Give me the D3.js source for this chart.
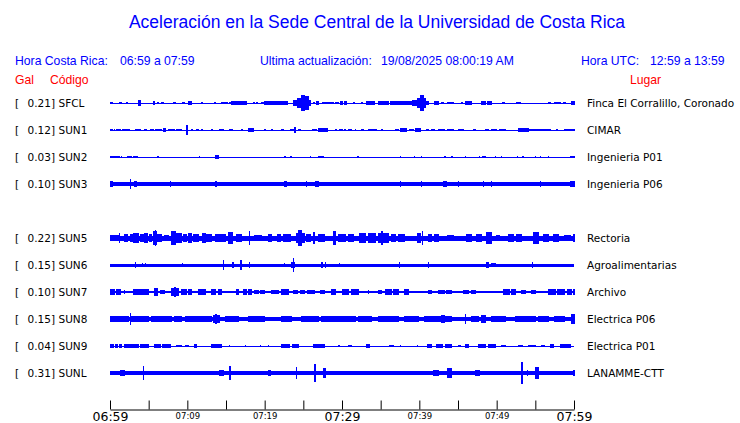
<!DOCTYPE html>
<html>
<head>
<meta charset="utf-8">
<script src="https://cdn.jsdelivr.net/npm/d3@7"></script>
<style>
  body { margin: 0; background: #fff; }
  svg { display: block; }
</style>
</head>
<body>
<svg id="chart" width="740" height="423"></svg>
<script>
// slots on the drum (SUN4 is not reporting)
const slots = ["SFCL", "SUN1", "SUN2", "SUN3", "SUN4", "SUN5", "SUN6", "SUN7", "SUN8", "SUN9", "SUNL"];
const codes = ["SFCL", "SUN1", "SUN2", "SUN3", "SUN5", "SUN6", "SUN7", "SUN8", "SUN9", "SUNL"];
const peakGal = [0.21, 0.12, 0.03, 0.10, 0.22, 0.15, 0.10, 0.15, 0.04, 0.31];
const places = ["Finca El Corralillo, Coronado", "CIMAR", "Ingenieria P01", "Ingenieria P06",
  "Rectoria", "Agroalimentarias", "Archivo", "Electrica P06", "Electrica P01", "LANAMME-CTT"];
// background noise level (Gal, half amplitude)
const noiseGal = [0.0125, 0.0125, 0.0125, 0.05, 0.0625, 0.0375, 0.034, 0.054, 0.0125, 0.046];
// minutes after 06:59 used for ticks
const tickMinutes = d3.range(0, 61, 5);

// envelope bursts: [start min, end min, half amplitude Gal]
const sfcl = [[0,0.3,.033],[1.2,1.5,.033],[2.1,2.2,.025],[3.7,3.9,.075],[5.6,5.8,.05],[6.2,6.3,.033],
  [6.6,6.9,.033],[8.2,8.5,.033],[9.4,9.6,.025],[10.2,10.6,.042],[11.8,11.9,.025],[13.5,13.7,.025],
  [14.4,14.5,.025],[14.7,14.9,.025],[15.0,15.2,.025],[15.4,15.7,.033],[15.7,17.5,.042],[17.5,17.7,.05],
  [18.6,18.7,.025],[19.0,19.1,.025],[19.6,19.8,.033],[20.0,22.4,.042],[22.5,22.9,.05],[23.7,24.3,.083],
  [24.3,24.8,.125],[24.8,25.2,.208],[25.2,25.7,.167],[25.7,25.9,.067],[26.3,26.5,.033],[26.7,26.9,.042],
  [27.5,28.9,.033],[29.1,29.5,.033],[29.8,30.0,.05],[30.3,30.6,.042],[31.5,31.6,.025],[32.5,32.6,.025],
  [33.2,34.2,.042],[34.7,36.0,.042],[36.3,39.0,.042],[39.1,39.7,.083],[39.7,40.1,.133],[40.1,40.5,.208],
  [40.5,40.8,.117],[40.8,41.2,.058],[41.9,42.5,.042],[42.9,43.1,.025],[43.7,44.4,.033],[45.4,45.6,.025],
  [46.0,46.7,.042],[48.0,48.6,.058],[48.8,49.3,.05],[50.7,51.0,.033],[52.6,53.1,.033],[56.7,56.9,.025],
  [57.5,58.2,.033],[58.7,58.9,.025],[59.7,60,.042]];
const sun1 = [[0.1,0.3,.025],[0.6,0.6,.017],[0.9,1.3,.025],[1.6,2.5,.033],[3.3,3.9,.033],[4.5,4.7,.025],
  [5.2,5.6,.025],[5.9,6.7,.033],[6.9,7.2,.058],[7.5,8.4,.033],[8.6,9.3,.033],[9.9,10.0,.125],
  [10.6,10.6,.025],[11.2,11.4,.025],[11.8,11.9,.025],[13.1,13.2,.025],[14.2,14.7,.025],[15.5,15.9,.033],
  [17.0,17.1,.025],[17.9,18.5,.042],[20.0,20.1,.025],[20.9,21.0,.025],[22.2,22.4,.025],[23.3,23.7,.033],
  [23.9,24.0,.083],[24.4,24.6,.033],[26.2,26.7,.033],[26.9,28.1,.042],[29.1,29.3,.025],[29.7,30.0,.025],
  [30.3,30.5,.025],[30.9,31.2,.033],[31.7,31.8,.033],[32.5,32.8,.025],[33.4,33.8,.025],[34.0,34.4,.025],
  [35.1,35.3,.025],[36.9,37.3,.033],[37.5,38.4,.058],[38.7,39.2,.033],[39.5,40.2,.042],[40.9,41.2,.025],
  [41.6,42.0,.033],[42.5,43.3,.033],[43.7,44.4,.033],[45.0,45.7,.025],[47.0,47.2,.025],[48.5,48.9,.025],
  [49.3,50.0,.033],[50.4,51.1,.025],[52.8,54.1,.042],[54.3,55.4,.033],[55.6,56.9,.033],[57.8,57.9,.025],
  [58.8,60,.033]];
const sun2 = [[0,0.4,.033],[0.6,1.2,.033],[1.5,1.5,.017],[2.3,2.8,.033],[3.1,3.5,.033],[6.2,6.2,.017],
  [11.6,11.6,.017],[13.7,14.0,.042],[22.5,22.7,.033],[23.4,23.4,.017],[25.9,25.9,.017],[26.9,27.6,.033],
  [32.0,32.1,.033],[37.6,37.6,.017],[39.4,39.4,.017],[40.3,40.3,.017],[43.2,43.4,.033],[44.2,44.2,.017],
  [46.0,46.0,.025],[47.8,47.8,.017],[48.2,48.5,.033],[49.8,49.8,.017],[50.6,50.6,.017],[52.7,52.7,.017],
  [53.4,53.4,.017],[55.0,55.0,.025],[55.7,55.7,.025],[56.7,56.7,.025],[59.6,60,.033]];
const sun3 = [[0,0.3,.075],[2.6,2.7,.125],[3.2,3.4,.083],[7.8,7.8,.067],[13.7,13.7,.067],[22.5,22.8,.075],
  [25.4,25.4,.067],[26.6,26.9,.067],[27.3,27.3,.058],[29.5,29.5,.058],[35.8,35.8,.058],[37.6,37.6,.067],
  [40.3,40.3,.067],[43.1,43.5,.075],[45.1,45.1,.067],[48.3,48.3,.067],[49.3,49.3,.067],[53.4,53.4,.058],
  [55.7,55.7,.067],[59.5,60,.075]];
const sun5 = [[0,1.1,.075],[1.2,1.2,.117],[1.9,2.2,.1],[2.6,2.9,.1],[3.1,3.7,.125],[4.0,4.3,.1],
  [4.5,4.9,.117],[5.1,5.4,.108],[5.6,6.0,.183],[5.9,5.9,.208],[6.2,6.7,.1],[7.1,7.5,.083],[8.0,8.5,.167],
  [8.6,9.3,.117],[9.5,9.9,.1],[10.1,10.6,.117],[10.8,11.4,.1],[11.9,12.3,.125],[12.5,13.1,.1],
  [13.6,14.9,.092],[15.3,15.9,.15],[16.4,17.0,.1],[18.0,18.0,.183],[18.7,19.6,.075],[20.5,20.9,.092],
  [21.6,22.0,.092],[22.4,23.3,.1],[24.1,24.3,.125],[24.4,24.8,.2],[24.8,25.1,.125],[25.4,25.9,.1],
  [26.3,26.5,.15],[26.9,27.8,.1],[28.9,29.1,.167],[29.5,30.4,.1],[30.8,31.5,.1],[32.3,33.0,.117],
  [33.4,34.3,.117],[34.7,36.0,.133],[35.1,35.2,.183],[36.4,36.9,.1],[37.3,38.1,.092],[39.7,40.1,.117],
  [40.4,40.4,.183],[41.2,41.6,.092],[42.0,42.5,.1],[43.7,44.4,.083],[46.1,46.8,.092],[47.4,48.1,.092],
  [48.7,49.3,.15],[50.0,50.4,.083],[51.5,52.2,.1],[52.6,53.2,.092],[54.7,55.4,.15],[56.0,56.7,.092],
  [57.3,58.0,.092],[58.8,59.5,.083],[59.9,60,.1]];
const sun6 = [[3.3,3.3,.067],[4.2,4.2,.058],[4.6,4.6,.058],[9.4,9.4,.05],[14.7,14.7,.117],[15.8,16.0,.067],
  [16.9,17.0,.117],[18.0,18.1,.075],[22.5,22.5,.05],[23.5,23.9,.083],[23.7,23.7,.167],[27.4,27.5,.067],
  [27.9,27.9,.067],[29.7,29.7,.05],[37.4,37.4,.067],[41.2,41.2,.067],[48.7,48.9,.075],[49.3,49.9,.058],
  [54.6,54.6,.067]];
const sun7 = [[0,0.6,.065],[0.8,1.3,.065],[1.9,1.9,.055],[3.0,3.9,.065],[4.1,5.0,.065],[5.8,6.2,.105],
  [6.5,7.1,.06],[8.0,8.8,.09],[8.4,8.4,.117],[9.3,9.9,.065],[10.1,10.6,.065],[11.4,12.3,.075],
  [13.1,13.6,.08],[14.0,14.4,.08],[16.4,16.6,.065],[17.2,17.7,.065],[17.9,18.3,.065],[18.7,19.2,.06],
  [19.5,20.0,.06],[20.9,21.8,.06],[22.2,23.1,.065],[23.7,24.3,.06],[24.6,25.2,.06],[25.6,26.5,.06],
  [27.2,27.8,.06],[28.7,29.1,.075],[30.0,30.9,.065],[31.2,32.1,.065],[33.4,33.4,.055],[34.7,35.1,.06],
  [35.6,36.4,.065],[36.7,37.3,.065],[38.1,38.6,.065],[41.2,41.6,.06],[42.5,43.2,.06],[43.5,44.2,.06],
  [45.7,46.4,.06],[46.7,47.2,.06],[50.9,51.6,.065],[51.9,52.4,.065],[53.2,53.7,.06],[54.5,55.0,.06],
  [56.7,57.6,.065],[57.9,58.8,.065],[59.1,59.7,.065],[59.9,60,.083]];
const sun8 = [[0,2.4,.075],[2.6,2.6,.15],[2.8,5.0,.072],[5.4,8.0,.067],[8.4,9.3,.067],[9.7,13.1,.067],
  [13.4,14.2,.1],[13.7,13.8,.133],[14.9,16.6,.067],[17.9,20.0,.067],[22.2,23.5,.067],[24.8,26.9,.067],
  [27.4,31.7,.07],[32.1,33.8,.07],[34.7,37.3,.067],[38.1,39.9,.067],[40.7,44.2,.067],[42.9,43.3,.1],
  [46.0,46.0,.133],[46.8,47.6,.067],[48.1,48.5,.108],[49.3,51.1,.067],[52.4,55.0,.067],[55.4,56.7,.067],
  [57.5,58.8,.067],[59.7,60,.117]];
const sun9 = [[0,0.5,.042],[0.7,1.0,.042],[1.2,1.5,.042],[1.9,2.6,.042],[2.8,3.7,.042],[4.0,5.0,.042],
  [5.8,6.5,.042],[6.8,7.8,.042],[8.6,9.3,.033],[9.7,10.1,.033],[10.9,11.2,.042],[13.1,14.4,.042],
  [15.4,15.4,.033],[17.5,17.5,.025],[19.4,19.4,.025],[20.5,20.5,.033],[22.2,23.2,.042],[23.6,24.4,.042],
  [26.3,27.8,.042],[29.5,29.7,.033],[30.8,31.2,.033],[33.2,33.6,.042],[36.2,36.6,.033],[37.5,37.5,.033],
  [39.7,39.7,.033],[41.1,41.6,.042],[42.2,43.0,.042],[43.4,44.2,.042],[45.0,45.3,.033],[46.0,46.3,.042],
  [47.6,48.6,.042],[49.0,49.8,.042],[50.6,51.1,.033],[52.8,53.4,.033],[54.1,55.0,.033],[55.8,56.2,.033],
  [56.9,57.3,.042],[58.2,59.5,.042]];
const sunl = [[0.2,1.1,.062],[1.4,1.9,.083],[2.4,3.2,.058],[4.3,4.3,.167],[4.7,5.0,.062],[6.0,8.0,.062],
  [8.6,9.1,.058],[10.3,10.6,.058],[11.0,11.4,.062],[12.3,12.7,.055],[14.2,14.7,.083],[15.5,15.5,.167],
  [20.5,20.7,.083],[21.3,21.8,.058],[22.6,22.8,.058],[24.1,24.1,.15],[24.8,25.2,.062],[26.5,26.6,.233],
  [27.6,27.9,.117],[31.0,31.0,.055],[33.4,33.8,.055],[36.0,36.0,.055],[38.1,38.1,.055],[39.7,39.7,.058],
  [41.8,42.5,.08],[43.7,44.2,.117],[44.6,45.3,.058],[47.2,47.8,.08],[48.3,48.5,.058],[49.6,49.6,.058],
  [50.2,51.3,.062],[51.7,52.2,.058],[53.2,53.4,.283],[54.0,54.0,.067],[55.0,55.4,.15],[56.0,56.0,.058],
  [59.9,60,.083]];
const bursts = [sfcl, sun1, sun2, sun3, sun5, sun6, sun7, sun8, sun9, sunl];

const svg = d3.select("#chart");
const blue = "#0000ff";
const start = new Date(2025, 7, 19, 6, 59);
const toDate = (m) => new Date(+start + m * 60000);

const x = d3.scaleTime().domain([start, toDate(60)]).range([110, 574]);
const y = d3.scalePoint().domain(slots).range([103, 373]);
const amp = d3.scaleLinear().domain([0, 0.3]).range([0, 12]);

// title and header
svg.append("text")
  .attr("x", 377).attr("y", 28)
  .attr("text-anchor", "middle")
  .style("font", "17.5px 'Liberation Sans', Arial, sans-serif")
  .attr("fill", blue)
  .text("Aceleración en la Sede Central de la Universidad de Costa Rica");

let header = [
  [15, "Hora Costa Rica:"], [120, "06:59 a 07:59"],
  [260, "Ultima actualización:"], [381, "19/08/2025 08:00:19 AM"],
  [581, "Hora UTC:"], [650, "12:59 a 13:59"]
];
svg.selectAll(".hdr").data(header).enter().append("text")
  .attr("class", "hdr")
  .attr("x", (d) => d[0]).attr("y", 65)
  .style("font", "12.2px 'Liberation Sans', Arial, sans-serif")
  .attr("fill", blue)
  .text((d) => d[1]);

svg.selectAll(".red").data([[15, "Gal"], [50, "Código"], [630, "Lugar"]]).enter().append("text")
  .attr("class", "red")
  .attr("x", (d) => d[0]).attr("y", 84)
  .style("font", "12.2px 'Liberation Sans', Arial, sans-serif")
  .attr("fill", "#ff0000")
  .text((d) => d[1]);

// traces
let trace = svg.selectAll(".trace").data(codes).enter().append("g")
  .attr("class", "trace")
  .attr("transform", (d) => "translate(0," + y(d) + ")")
  .attr("fill", blue)
  .attr("shape-rendering", "crispEdges");

trace.append("rect")
  .attr("x", x(start))
  .attr("width", x(toDate(60)) - x(start))
  .attr("y", (d, i) => -Math.max(amp(noiseGal[i]), 0.5))
  .attr("height", (d, i) => 2 * Math.max(amp(noiseGal[i]), 0.5));

trace.each(function(d, i) {
  d3.select(this).selectAll(".ev").data(bursts[i]).enter().append("rect")
    .attr("class", "ev")
    .attr("x", (e) => x(toDate(e[0])) - 0.5)
    .attr("width", (e) => Math.max(1.2, x(toDate(e[1])) - x(toDate(e[0])) + 1))
    .attr("y", (e) => -amp(e[2]))
    .attr("height", (e) => 2 * amp(e[2]));
});

// labels
let labelFont = "10.5px 'DejaVu Sans', Verdana, sans-serif";
trace.append("text").attr("x", 15).attr("dy", "0.36em")
  .attr("fill", "#000").style("font", labelFont).text("[");
trace.append("text").attr("x", 55).attr("dy", "0.36em").attr("text-anchor", "end")
  .attr("fill", "#000").style("font", labelFont)
  .text((d, i) => peakGal[i].toFixed(2) + "]");
trace.append("text").attr("x", 58.5).attr("dy", "0.36em")
  .attr("fill", "#000").style("font", labelFont).text((d) => d);
trace.append("text").attr("x", 587).attr("dy", "0.36em")
  .attr("fill", "#000").style("font", labelFont)
  .text((d, i) => places[i]);

// time axis
let fmt = d3.timeFormat("%H:%M");
let axis = d3.axisBottom(x)
  .tickValues(tickMinutes.map(toDate))
  .tickSizeInner(-9)
  .tickSizeOuter(0)
  .tickPadding(3)
  .tickFormat((d, i) => tickMinutes[i] % 10 === 0 ? fmt(d) : "");

let gAxis = svg.append("g")
  .attr("transform", "translate(0,409.5)")
  .call(axis);
gAxis.selectAll("text")
  .attr("fill", "#000")
  .style("font-family", "'DejaVu Sans', Verdana, sans-serif")
  .style("font-size", (d, i) => tickMinutes[i] % 30 === 0 ? "12.5px" : "8.5px");
gAxis.selectAll("line, path").attr("stroke", "#000");
</script>
</body>
</html>
